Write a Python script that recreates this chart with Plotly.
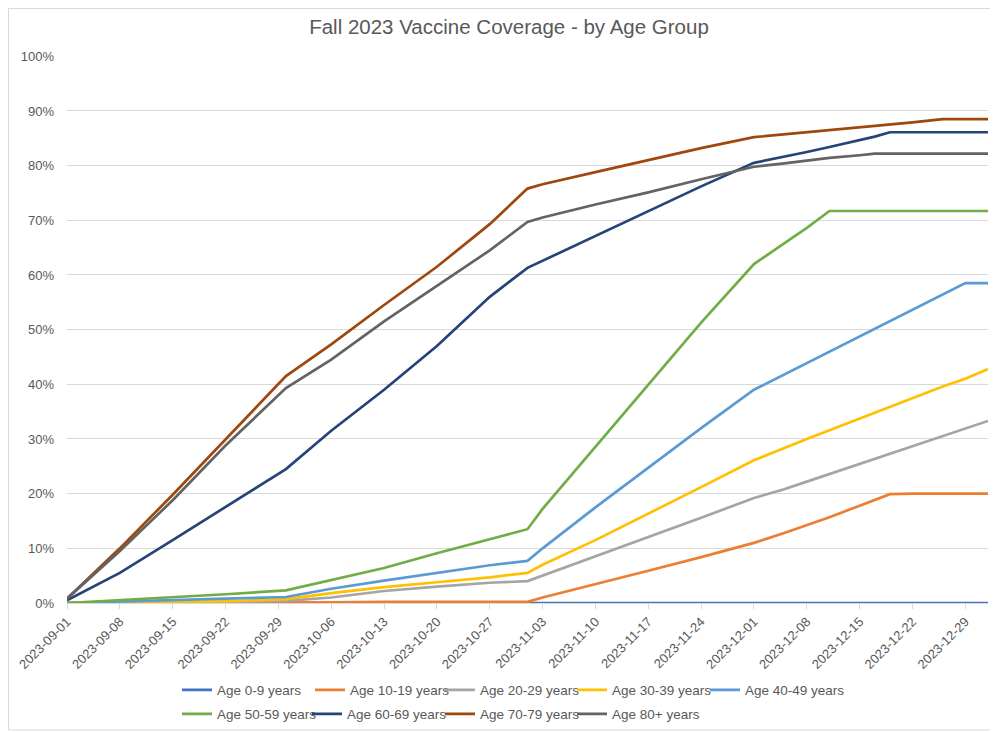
import plotly.graph_objects as go

dates = ["2023-09-01", "2023-09-08", "2023-09-15", "2023-09-22", "2023-09-30",
         "2023-10-06", "2023-10-13", "2023-10-20", "2023-10-27", "2023-11-01",
         "2023-11-03", "2023-11-10", "2023-11-17", "2023-11-24", "2023-12-01",
         "2023-12-05", "2023-12-08", "2023-12-11", "2023-12-15", "2023-12-17",
         "2023-12-19", "2023-12-22", "2023-12-26", "2023-12-29", "2024-01-01"]

age_0_9 = [0] * 25
age_10_19 = [0, 0, 0, 0, 0, 0.1, 0.2, 0.2, 0.2, 0.2,
             1.0, 3.4, 5.9, 8.4, 11.0, 12.8, 14.2, 15.7, 17.8, 18.8,
             19.9, 20.0, 20.0, 20.0, 20.0]
age_20_29 = [0, 0, 0.1, 0.2, 0.4, 1.0, 2.2, 3.0, 3.7, 4.0,
             5.0, 8.5, 12.0, 15.6, 19.2, 20.8, 22.2, 23.6, 25.4, 26.3,
             27.2, 28.6, 30.6, 31.9, 33.3]
age_30_39 = [0, 0, 0.1, 0.3, 0.7, 1.8, 2.9, 3.8, 4.7, 5.5,
             7.0, 11.5, 16.3, 21.2, 26.1, 28.4, 30.0, 31.6, 33.7, 34.8,
             35.8, 37.4, 39.6, 41.0, 42.8]
age_40_49 = [0, 0.3, 0.6, 0.8, 1.1, 2.6, 4.1, 5.5, 6.9, 7.7,
             10.0, 17.5, 24.8, 32.0, 39.0, 41.8, 43.9, 46.0, 48.8, 50.2,
             51.6, 53.7, 56.5, 58.5, 58.5]
age_50_59 = [0, 0.5, 1.1, 1.6, 2.3, 4.2, 6.4, 9.1, 11.7, 13.5,
             17.2, 28.5, 39.9, 51.3, 62.0, 65.8, 68.6, 71.7, 71.7, 71.7,
             71.7, 71.7, 71.7, 71.7, 71.7]
age_60_69 = [0.5, 5.5, 11.5, 17.5, 24.5, 31.5, 39.0, 47.0, 56.0, 61.3,
             62.6, 67.0, 71.6, 76.2, 80.5, 81.6, 82.5, 83.4, 84.6, 85.3,
             86.1, 86.1, 86.1, 86.1, 86.1]
age_70_79 = [0.8, 10.0, 19.8, 30.0, 41.5, 47.3, 54.5, 61.5, 69.3, 75.8,
             76.6, 78.8, 81.0, 83.2, 85.2, 85.7, 86.1, 86.5, 87.0, 87.3,
             87.5, 87.9, 88.5, 88.5, 88.5]
age_80_plus = [0.8, 9.5, 18.8, 28.8, 39.3, 44.5, 51.5, 58.0, 64.5, 69.7,
               70.5, 72.9, 75.1, 77.5, 79.8, 80.4, 80.9, 81.4, 81.9, 82.2,
               82.2, 82.2, 82.2, 82.2, 82.2]

series_names = ["Age 0-9 years", "Age 10-19 years", "Age 20-29 years",
                "Age 30-39 years", "Age 40-49 years", "Age 50-59 years",
                "Age 60-69 years", "Age 70-79 years", "Age 80+ years"]
series_values = [age_0_9, age_10_19, age_20_29, age_30_39, age_40_49,
                 age_50_59, age_60_69, age_70_79, age_80_plus]
colors = ["#4472C4", "#ED7D31", "#A5A5A5", "#FFC000", "#5B9BD5",
          "#70AD47", "#264478", "#9E480E", "#636363"]

FONT = "Liberation Sans, Arial, sans-serif"
TXT = "#595959"

# Figure geometry (the page adds an 8px body margin around the figure)
W, H = 990, 724
ML, MR, MT, MB = 59, 10, 48, 129
PW, PH = W - ML - MR, H - MT - MB

def px_to_paper_x(px):
    return (px - ML) / PW

def px_to_paper_y(py):
    return (H - MB - py) / PH

# legend entry placement (line start x, row centre y) in figure pixels
legend_slots = [(174, 674 + 8), (307, 682), (437, 682), (569, 682), (702, 682),
                (174, 706), (304, 706), (437, 706), (569, 706)]

fig = go.Figure()
layout_legends = {}
for i, (name, vals, col) in enumerate(zip(series_names, series_values, colors)):
    key = "legend" if i == 0 else f"legend{i + 1}"
    fig.add_trace(go.Scatter(
        x=dates, y=[v / 100 for v in vals], name=name, mode="lines",
        line=dict(color=col, width=2.7),
        legend=key,
    ))
    lx, ly = legend_slots[i]
    layout_legends[key] = dict(
        orientation="h", xanchor="left", yanchor="middle",
        x=px_to_paper_x(lx - 5), y=px_to_paper_y(ly),
        font=dict(family=FONT, size=13.5, color=TXT),
        itemwidth=30, bgcolor="rgba(0,0,0,0)",
    )

fig.update_layout(
    width=W, height=H,
    margin=dict(l=ML, r=MR, t=MT, b=MB, autoexpand=False),
    paper_bgcolor="white", plot_bgcolor="white",
    title=dict(text="Fall 2023 Vaccine Coverage - by Age Group",
               x=501 / W, xref="container", xanchor="center",
               y=1 - 19 / H, yref="container", yanchor="middle",
               font=dict(family=FONT, size=20.5, color=TXT)),
    showlegend=True,
    xaxis=dict(
        type="date", range=["2023-09-01", "2024-01-01"],
        tick0="2023-09-01", dtick=7 * 24 * 3600 * 1000,
        tickformat="%Y-%m-%d", tickangle=-45,
        tickfont=dict(family=FONT, size=13, color=TXT),
        showgrid=False, showline=True, linecolor="#D9D9D9", linewidth=1,
        ticks="outside", ticklen=5, tickcolor="#D9D9D9",
        zeroline=False, automargin=False,
    ),
    yaxis=dict(
        range=[0, 1.0005], dtick=0.1, tick0=0, tickformat=".0%",
        tickfont=dict(family=FONT, size=13, color=TXT),
        showgrid=True, gridcolor="#D9D9D9", gridwidth=1,
        zeroline=False, showline=False, ticks="", ticklabelstandoff=12,
        automargin=False,
    ),
    shapes=[dict(type="rect", xref="paper", yref="paper",
                 x0=px_to_paper_x(0.5), x1=px_to_paper_x(987),
                 y0=px_to_paper_y(722), y1=px_to_paper_y(0.5),
                 line=dict(color="#D9D9D9", width=1), layer="below")],
    **layout_legends,
)

fig.write_html("out.html")
